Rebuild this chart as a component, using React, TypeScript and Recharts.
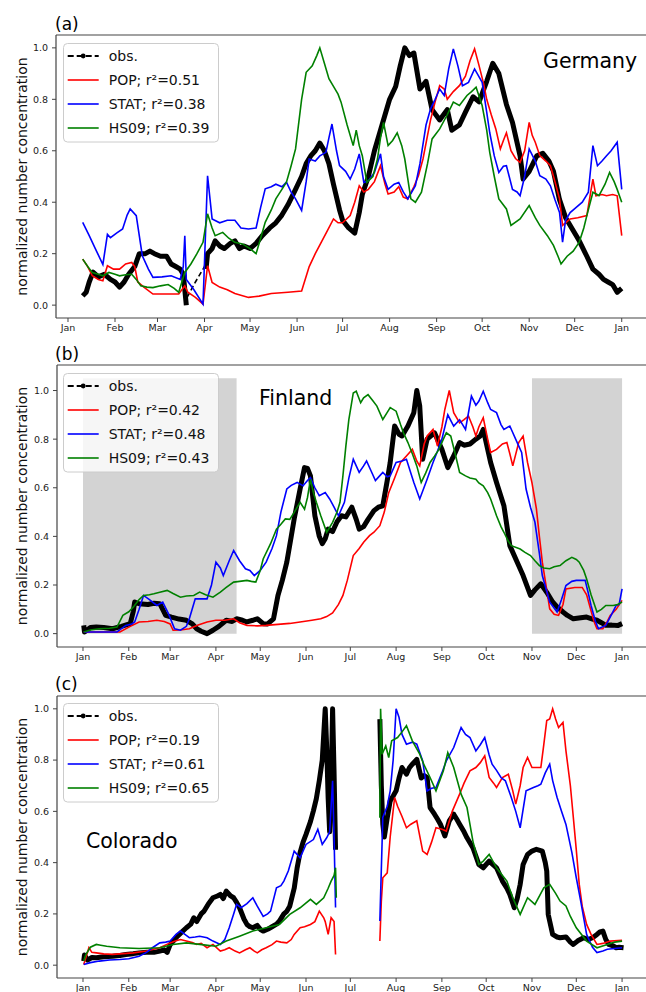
import React from 'react';
import { LineChart, Line, XAxis, YAxis, ReferenceArea, ReferenceLine, Legend } from 'recharts';

type Pt = [number, number | null];

const FONT = 'DejaVu Sans';
const MONTH_DAYS = [0, 31, 59, 90, 120, 151, 181, 212, 243, 273, 304, 334, 365];
const MONTH_LABELS = ['Jan', 'Feb', 'Mar', 'Apr', 'May', 'Jun', 'Jul', 'Aug', 'Sep', 'Oct', 'Nov', 'Dec', 'Jan'];
const Y_TICKS = [0, 0.2, 0.4, 0.6, 0.8, 1.0];
const SERIES_NAMES = ['obs.', 'POP', 'STAT', 'HS09'];

// ---------- Germany ----------
const deObs: Pt[] = [[9.7,0.036],[12,0.05],[14,0.09],[16.5,0.128],[20,0.11],[24,0.12],[28,0.1],[31,0.09],[34,0.07],[37,0.09],[40,0.12],[44,0.15],[47,0.2],[51,0.2],[54,0.21],[57,0.2],[61,0.19],[65,0.19],[68,0.16],[71,0.15],[74,0.14],[76,0.12],[77,0.06],[78,0.0],[84,null],[91,0.14],[92,0.2],[95,0.22],[97,0.25],[100,0.23],[103,0.22],[107,0.24],[110,0.25],[113,0.22],[116,0.23],[120,0.22],[124,0.24],[128,0.27],[133,0.3],[137,0.32],[141,0.35],[145,0.39],[150,0.45],[154,0.5],[157,0.55],[160,0.58],[163,0.6],[166,0.63],[169,0.6],[172,0.55],[175,0.47],[179,0.37],[181,0.33],[185,0.3],[189,0.28],[192,0.36],[194,0.43],[198,0.5],[202,0.6],[207,0.7],[212,0.8],[216,0.85],[219,0.93],[222,1.0],[225,0.97],[228,0.98],[232,0.84],[236,0.87],[240,0.76],[245,0.72],[250,0.76],[253,0.68],[258,0.7],[262,0.75],[267,0.81],[271,0.79],[276,0.87],[280,0.94],[284,0.9],[289,0.78],[293,0.71],[298,0.58],[300,0.49],[304,0.52],[309,0.58],[313,0.59],[317,0.56],[320,0.52],[324,0.41],[328,0.34],[333,0.29],[337,0.25],[342,0.19],[346,0.14],[350,0.12],[353,0.1],[356,0.09],[359,0.08],[362,0.05],[365,0.065]];
const deObsGap: Pt[] = [[78.5,0.03],[84,0.09],[90,0.15]];
const dePop: Pt[] = [[9.7,0.179],[13,0.15],[16,0.114],[20,0.1],[23,0.095],[26,0.153],[30,0.14],[34,0.14],[38,0.16],[42,0.166],[44,0.15],[46,0.09],[50,0.07],[56,0.043],[65,0.043],[73,0.043],[77,0.075],[79,0.05],[84,0.03],[89,0.004],[92,0.153],[95,0.088],[100,0.07],[105,0.06],[110,0.045],[119,0.03],[126,0.035],[134,0.045],[145,0.05],[154,0.055],[159,0.15],[163,0.2],[167,0.245],[171,0.29],[175,0.335],[178,0.32],[181,0.32],[186,0.348],[189,0.4],[192,0.464],[195,0.44],[198,0.45],[202,0.48],[206,0.542],[209,0.47],[211,0.432],[215,0.44],[218,0.46],[221,0.42],[224,0.413],[228,0.46],[231,0.503],[234,0.568],[237,0.66],[239,0.72],[242,0.79],[245,0.853],[248,0.84],[250,0.8],[254,0.83],[258,0.853],[262,0.89],[265,0.95],[268,0.996],[271,0.93],[274,0.86],[276,0.8],[279,0.74],[282,0.685],[285,0.607],[287,0.64],[289,0.67],[292,0.6],[295,0.57],[298,0.555],[301,0.6],[304,0.71],[306,0.66],[308,0.633],[311,0.581],[315,0.56],[318,0.542],[321,0.48],[324,0.413],[326,0.31],[331,0.335],[336,0.34],[342,0.348],[344,0.42],[346,0.49],[348,0.425],[352,0.43],[355,0.425],[359,0.43],[362,0.425],[365,0.27]];
const deStat: Pt[] = [[9.7,0.322],[14,0.27],[18,0.22],[23,0.158],[26,0.275],[28,0.262],[32,0.28],[36,0.296],[39,0.35],[41,0.374],[45,0.348],[49,0.192],[53,0.14],[56,0.108],[62,0.11],[68,0.114],[74,0.1],[76,0.15],[77,0.27],[78,0.1],[83,0.06],[89,0.004],[92,0.503],[95,0.335],[100,0.32],[105,0.33],[110,0.33],[114,0.3],[119,0.296],[124,0.3],[127,0.38],[130,0.452],[134,0.46],[137,0.47],[141,0.46],[144,0.478],[147,0.44],[150,0.413],[154,0.368],[157,0.48],[159,0.568],[163,0.56],[166,0.58],[170,0.594],[172,0.65],[174,0.704],[177,0.6],[179,0.542],[183,0.52],[186,0.49],[189,0.529],[192,0.588],[195,0.477],[198,0.483],[202,0.516],[206,0.588],[208,0.5],[211,0.45],[215,0.47],[218,0.477],[221,0.44],[224,0.413],[229,0.464],[232,0.55],[236,0.7],[239,0.763],[242,0.8],[245,0.84],[248,0.815],[251,0.92],[254,0.996],[257,0.93],[260,0.853],[264,0.866],[268,0.918],[273,0.866],[276,0.75],[278,0.67],[281,0.58],[284,0.516],[287,0.54],[289,0.542],[293,0.45],[296,0.44],[298,0.425],[301,0.5],[304,0.607],[308,0.56],[311,0.503],[315,0.49],[318,0.464],[321,0.41],[324,0.36],[326,0.245],[328,0.33],[331,0.36],[335,0.38],[339,0.4],[343,0.439],[346,0.62],[349,0.542],[352,0.56],[355,0.581],[358,0.6],[362,0.633],[365,0.45]];
const deHs: Pt[] = [[9.7,0.179],[13,0.15],[16,0.127],[20,0.12],[23,0.114],[27,0.127],[31,0.12],[34,0.114],[38,0.118],[42,0.12],[45,0.1],[48,0.075],[52,0.07],[56,0.068],[61,0.075],[66,0.08],[70,0.065],[73,0.05],[77,0.127],[81,0.16],[85,0.2],[89,0.244],[92,0.355],[95,0.3],[97,0.27],[102,0.283],[106,0.26],[110,0.244],[115,0.238],[120,0.22],[124,0.2],[127,0.26],[130,0.322],[134,0.37],[137,0.413],[141,0.45],[144,0.478],[147,0.54],[150,0.607],[154,0.8],[157,0.905],[161,0.93],[164,0.97],[166,1.0],[169,0.94],[172,0.88],[175,0.85],[178,0.82],[180,0.789],[184,0.7],[188,0.62],[190,0.68],[192,0.62],[194,0.581],[197,0.477],[201,0.5],[204,0.568],[206,0.65],[208,0.71],[211,0.62],[214,0.64],[217,0.67],[220,0.62],[222,0.568],[226,0.413],[229,0.4],[233,0.439],[237,0.55],[240,0.646],[245,0.685],[250,0.74],[254,0.789],[258,0.776],[263,0.815],[266,0.83],[269,0.847],[273,0.776],[276,0.68],[278,0.594],[281,0.5],[284,0.413],[289,0.374],[292,0.31],[298,0.335],[304,0.387],[308,0.34],[311,0.31],[316,0.27],[320,0.232],[323,0.19],[325,0.16],[329,0.19],[333,0.21],[337,0.245],[340,0.3],[342,0.348],[346,0.439],[350,0.426],[354,0.47],[357,0.516],[360,0.48],[362,0.45],[365,0.4]];
const deR2 = ['0.51', '0.38', '0.39'];

// ---------- Finland ----------
const fiObs: Pt[] = [[0.5,0.034],[1,0.007],[5,0.025],[9,0.027],[14,0.025],[20,0.02],[26,0.03],[32,0.041],[34,0.09],[35,0.13],[38,0.123],[44,0.12],[48,0.125],[52,0.123],[56,0.075],[60,0.068],[65,0.06],[70,0.055],[74,0.04],[77,0.02],[80,0.01],[84,0.0],[88,0.014],[92,0.03],[97,0.055],[101,0.05],[104,0.061],[108,0.055],[111,0.048],[115,0.055],[118,0.061],[122,0.041],[125,0.04],[129,0.061],[132,0.157],[135,0.22],[138,0.294],[141,0.4],[143,0.472],[147,0.595],[150,0.683],[152,0.68],[154,0.649],[157,0.485],[160,0.4],[162,0.37],[164,0.39],[166,0.43],[169,0.42],[172,0.46],[175,0.485],[178,0.48],[182,0.52],[185,0.47],[187,0.43],[190,0.44],[193,0.47],[197,0.506],[200,0.52],[203,0.526],[206,0.63],[208,0.704],[211,0.854],[214,0.82],[216,0.813],[220,0.854],[224,0.909],[226,1.0],[228,0.936],[230,0.717],[233,0.8],[238,0.826],[243,0.758],[247,0.683],[251,0.731],[255,0.786],[258,0.775],[262,0.78],[266,0.8],[269,0.813],[271,0.84],[276,0.704],[280,0.622],[285,0.526],[289,0.362],[294,0.294],[298,0.239],[303,0.157],[306,0.18],[310,0.205],[314,0.17],[318,0.13],[321,0.11],[325,0.089],[328,0.075],[332,0.061],[337,0.065],[341,0.068],[345,0.06],[348,0.055],[351,0.045],[354,0.034],[358,0.035],[362,0.033],[365,0.041]];
const fiPop: Pt[] = [[0.5,0.007],[10,0.007],[25,0.007],[32,0.03],[38,0.048],[44,0.05],[50,0.055],[55,0.05],[59,0.04],[61,0.014],[66,0.015],[72,0.02],[78,0.035],[84,0.048],[90,0.055],[96,0.055],[102,0.061],[106,0.045],[111,0.034],[118,0.032],[124,0.034],[132,0.038],[140,0.042],[147,0.048],[155,0.055],[161,0.061],[165,0.07],[169,0.085],[173,0.12],[176,0.157],[179,0.22],[183,0.321],[187,0.35],[190,0.376],[194,0.403],[197,0.417],[201,0.444],[204,0.5],[207,0.58],[211,0.64],[215,0.704],[219,0.731],[223,0.758],[226,0.71],[228,0.69],[231,0.78],[233,0.813],[237,0.84],[240,0.772],[243,0.85],[245,0.922],[248,1.0],[251,0.909],[255,0.867],[258,0.88],[261,0.895],[264,0.85],[266,0.813],[268,0.85],[271,0.888],[274,0.8],[276,0.745],[280,0.758],[284,0.78],[287,0.786],[289,0.74],[291,0.69],[295,0.786],[298,0.813],[301,0.704],[304,0.62],[307,0.513],[309,0.4],[311,0.294],[314,0.18],[316,0.102],[319,0.08],[322,0.075],[325,0.12],[327,0.184],[333,0.19],[338,0.19],[341,0.16],[343,0.116],[346,0.05],[348,0.02],[352,0.02],[355,0.05],[357,0.075],[361,0.1],[365,0.137]];
const fiStat: Pt[] = [[0.5,0.007],[10,0.007],[23,0.007],[29,0.034],[33,0.04],[35,0.048],[38,0.1],[41,0.157],[45,0.14],[50,0.116],[54,0.13],[58,0.08],[62,0.02],[66,0.014],[70,0.03],[72,0.061],[76,0.143],[80,0.143],[84,0.143],[87,0.2],[90,0.294],[93,0.27],[95,0.239],[99,0.3],[102,0.342],[106,0.3],[110,0.267],[113,0.26],[116,0.239],[120,0.26],[124,0.294],[128,0.35],[131,0.403],[134,0.5],[138,0.595],[141,0.61],[145,0.622],[149,0.608],[152,0.63],[154,0.642],[157,0.6],[160,0.567],[164,0.58],[167,0.554],[170,0.52],[173,0.485],[177,0.54],[180,0.64],[183,0.717],[187,0.663],[190,0.69],[192,0.71],[195,0.67],[198,0.63],[201,0.65],[203,0.663],[206,0.645],[208,0.649],[212,0.704],[216,0.71],[219,0.717],[222,0.66],[224,0.622],[228,0.554],[233,0.635],[237,0.704],[240,0.75],[243,0.8],[247,0.9],[251,0.854],[255,0.88],[259,0.84],[263,0.977],[266,0.94],[268,0.956],[271,0.997],[274,0.95],[276,0.922],[280,0.909],[283,0.86],[285,0.84],[289,0.854],[294,0.786],[297,0.745],[300,0.595],[303,0.52],[306,0.458],[309,0.33],[311,0.239],[316,0.13],[321,0.089],[324,0.14],[327,0.198],[331,0.215],[334,0.219],[340,0.219],[342,0.17],[344,0.116],[347,0.05],[349,0.02],[354,0.034],[358,0.08],[361,0.116],[363,0.12],[365,0.184]];
const fiHs: Pt[] = [[0.5,0.007],[5,0.015],[11,0.02],[18,0.022],[23,0.027],[27,0.075],[31,0.09],[34,0.109],[38,0.14],[41,0.157],[45,0.16],[48,0.164],[52,0.17],[57,0.178],[61,0.165],[66,0.15],[70,0.155],[75,0.157],[79,0.171],[83,0.16],[88,0.15],[93,0.171],[97,0.19],[102,0.212],[106,0.215],[111,0.219],[114,0.215],[117,0.212],[120,0.26],[122,0.307],[127,0.37],[131,0.43],[134,0.45],[137,0.472],[140,0.47],[143,0.499],[147,0.54],[150,0.512],[152,0.56],[154,0.635],[156,0.58],[158,0.54],[161,0.485],[165,0.417],[169,0.458],[172,0.5],[174,0.54],[176,0.65],[178,0.772],[180,0.88],[183,0.99],[185,0.997],[188,0.95],[190,0.97],[193,0.983],[196,0.96],[199,0.936],[203,0.881],[206,0.91],[208,0.93],[212,0.915],[215,0.86],[217,0.826],[220,0.786],[223,0.74],[226,0.69],[229,0.622],[232,0.66],[235,0.704],[238,0.73],[241,0.758],[244,0.8],[246,0.826],[249,0.813],[252,0.74],[255,0.663],[259,0.649],[262,0.64],[266,0.635],[268,0.62],[271,0.608],[274,0.58],[276,0.554],[280,0.485],[283,0.44],[285,0.417],[288,0.38],[290,0.362],[296,0.348],[299,0.335],[303,0.321],[306,0.3],[309,0.28],[312,0.27],[316,0.267],[319,0.275],[323,0.28],[327,0.3],[331,0.314],[334,0.305],[336,0.294],[339,0.26],[341,0.225],[344,0.16],[348,0.089],[351,0.1],[354,0.116],[359,0.116],[362,0.12],[365,0.13]];
const fiR2 = ['0.42', '0.48', '0.43'];
// shaded months without model coverage (day-of-year ranges)
const fiSpans: [number, number][] = [[0, 104], [304, 365]];

// ---------- Colorado ----------
const coObs: Pt[] = [[0.5,0.016],[1,0.04],[3,0.02],[6,0.03],[9,0.029],[14,0.033],[20,0.035],[25,0.038],[29,0.042],[34,0.045],[38,0.048],[43,0.05],[48,0.05],[52,0.055],[55,0.06],[57,0.05],[59,0.08],[62,0.1],[64,0.113],[67,0.13],[70,0.146],[73,0.16],[75,0.185],[77,0.17],[80,0.2],[82,0.211],[85,0.24],[88,0.263],[91,0.27],[93,0.276],[95,0.26],[97,0.289],[100,0.27],[102,0.263],[104,0.245],[106,0.224],[109,0.18],[111,0.159],[113,0.15],[115,0.146],[118,0.155],[120,0.14],[122,0.133],[125,0.14],[128,0.15],[131,0.16],[133,0.172],[136,0.2],[138,0.21],[140,0.23],[143,0.3],[145,0.38],[147,0.44],[149,0.48],[151,0.51],[154,0.56],[156,0.602],[158,0.65],[160,0.72],[162,0.8],[163,0.9],[164,1.0],[165,0.85],[166,0.65],[167,0.52],[168,0.7],[169,1.0],[170,0.75],[171,0.45],[186,null],[201,0.96],[202,0.7],[203,0.55],[204,0.5],[206,0.575],[208,0.641],[210,0.66],[212,0.68],[214,0.73],[216,0.771],[219,0.745],[221,0.77],[223,0.784],[226,0.803],[229,0.73],[231,0.74],[233,0.732],[235,0.615],[238,0.589],[240,0.57],[242,0.55],[245,0.504],[248,0.563],[251,0.589],[253,0.57],[255,0.55],[258,0.52],[260,0.497],[264,0.458],[268,0.393],[271,0.38],[275,0.406],[278,0.39],[280,0.38],[284,0.328],[287,0.3],[289,0.276],[292,0.224],[294,0.26],[296,0.315],[298,0.393],[301,0.432],[304,0.445],[307,0.452],[311,0.445],[313,0.4],[314,0.367],[315,0.198],[318,0.12],[321,0.11],[323,0.107],[327,0.11],[330,0.09],[332,0.081],[335,0.095],[339,0.107],[342,0.1],[345,0.107],[348,0.12],[350,0.13],[352,0.133],[354,0.1],[356,0.081],[359,0.075],[361,0.068],[363,0.07],[366,0.068]];
const coPop: Pt[] = [[0.5,0.003],[2,0.03],[4,0.068],[6,0.05],[9,0.048],[14,0.044],[20,0.042],[27,0.045],[34,0.048],[43,0.055],[52,0.068],[59,0.087],[63,0.095],[66,0.1],[70,0.094],[74,0.088],[77,0.081],[80,0.085],[84,0.068],[88,0.081],[93,0.055],[96,0.06],[99,0.068],[103,0.055],[106,0.048],[110,0.06],[113,0.068],[116,0.055],[118,0.048],[121,0.06],[124,0.068],[128,0.08],[131,0.094],[134,0.09],[138,0.087],[141,0.1],[143,0.12],[147,0.146],[150,0.15],[154,0.159],[157,0.17],[160,0.211],[163,0.185],[164,0.17],[166,0.12],[168,0.185],[170,0.17],[171,0.042],[186,null],[201,0.094],[202,0.25],[203,0.341],[206,0.36],[208,0.5],[211,0.654],[213,0.62],[216,0.58],[219,0.536],[222,0.55],[226,0.563],[230,0.445],[233,0.432],[236,0.48],[239,0.536],[243,0.53],[246,0.523],[250,0.6],[255,0.667],[258,0.71],[262,0.758],[266,0.771],[269,0.79],[272,0.817],[275,0.732],[278,0.71],[280,0.693],[284,0.732],[288,0.745],[291,0.68],[293,0.628],[296,0.7],[298,0.771],[301,0.81],[304,0.771],[307,0.771],[310,0.771],[312,0.86],[314,0.954],[316,0.96],[318,1.0],[320,0.96],[322,0.927],[325,0.947],[327,0.836],[330,0.7],[332,0.576],[334,0.45],[336,0.315],[338,0.23],[341,0.159],[344,0.12],[348,0.081],[352,0.085],[357,0.094],[365,0.097]];
const coStat: Pt[] = [[0.5,0.003],[5,0.01],[11,0.016],[18,0.02],[25,0.022],[31,0.025],[38,0.035],[43,0.05],[47,0.068],[52,0.087],[56,0.09],[59,0.094],[63,0.12],[66,0.133],[69,0.12],[72,0.107],[76,0.11],[79,0.113],[84,0.107],[88,0.094],[93,0.081],[96,0.1],[99,0.146],[102,0.2],[104,0.237],[107,0.224],[111,0.24],[115,0.263],[118,0.23],[122,0.19],[125,0.2],[127,0.211],[131,0.302],[134,0.31],[136,0.328],[139,0.367],[143,0.445],[147,0.419],[151,0.471],[156,0.49],[159,0.53],[162,0.471],[165,0.497],[167,0.52],[169,0.719],[170,0.5],[171,0.225],[186,null],[201,0.172],[203,0.576],[206,0.62],[208,0.68],[210,0.8],[212,1.0],[214,0.966],[216,0.9],[219,0.862],[223,0.87],[226,0.862],[230,0.797],[233,0.68],[236,0.69],[239,0.693],[243,0.75],[246,0.797],[251,0.849],[256,0.927],[259,0.9],[262,0.888],[266,0.836],[269,0.86],[272,0.888],[275,0.82],[277,0.784],[280,0.76],[283,0.732],[286,0.719],[290,0.654],[293,0.6],[296,0.536],[300,0.68],[305,0.693],[308,0.7],[310,0.706],[313,0.75],[316,0.784],[318,0.72],[321,0.654],[324,0.6],[327,0.549],[331,0.44],[334,0.341],[337,0.25],[341,0.12],[345,0.07],[348,0.049],[352,0.055],[355,0.062],[360,0.065],[365,0.068]];
const coHs: Pt[] = [[0.5,0.016],[2,0.042],[5,0.07],[9,0.081],[12,0.078],[16,0.074],[25,0.068],[38,0.065],[52,0.068],[61,0.081],[70,0.087],[79,0.081],[90,0.074],[97,0.094],[106,0.113],[115,0.133],[124,0.146],[133,0.159],[140,0.198],[147,0.224],[154,0.257],[158,0.237],[163,0.263],[166,0.3],[168,0.328],[170,0.35],[171,0.38],[171.5,0.263],[186,null],[201,0.575],[201.5,1.0],[202.5,0.823],[205,0.855],[207,0.81],[209,0.875],[213,0.888],[216,0.91],[219,0.934],[223,0.875],[228,0.823],[231,0.78],[235,0.732],[239,0.68],[244,0.758],[247,0.829],[251,0.771],[256,0.667],[260,0.615],[264,0.484],[268,0.393],[271,0.406],[275,0.432],[280,0.38],[284,0.35],[287,0.328],[291,0.263],[296,0.198],[301,0.263],[306,0.237],[312,0.302],[316,0.315],[320,0.28],[323,0.25],[327,0.231],[330,0.19],[334,0.146],[341,0.094],[348,0.068],[355,0.081],[360,0.09],[365,0.094]];
const coR2 = ['0.19', '0.61', '0.65'];

const COLORS = { obs: '#000000', pop: '#ff0000', stat: '#0000ff', hs: '#008000' };

const rows = (pts: Pt[]) => pts.map(([day, v]) => ({ day, v }));

type PanelCfg = {
  top: number; height: number; plotTop: number; plotHeight: number; axisLeft: number;
  xDomain: [number, number]; yDomain: [number, number];
  obs: Pt[]; obsGap?: Pt[]; pop: Pt[]; stat: Pt[]; hs: Pt[]; r2: string[];
  tag: string; tagY: number; country: string; countryX: number; countryY: number;
  spans?: [number, number][]; legendY: number;
};

const panels: PanelCfg[] = [
  { top: 0, height: 345, plotTop: 35, plotHeight: 283, axisLeft: 56, xDomain: [-7.9, 381], yDomain: [-0.05, 1.05],
    obs: deObs, obsGap: deObsGap, pop: dePop, stat: deStat, hs: deHs, r2: deR2,
    tag: '(a)', tagY: 29.5, country: 'Germany', countryX: 543, countryY: 67.5, legendY: 43.3 },
  { top: 330, height: 344, plotTop: 35, plotHeight: 282, axisLeft: 57, xDomain: [-17.6, 381.2], yDomain: [-0.055, 1.105],
    obs: fiObs, pop: fiPop, stat: fiStat, hs: fiHs, r2: fiR2, spans: fiSpans,
    tag: '(b)', tagY: 29.5, country: 'Finland', countryX: 259, countryY: 74.5, legendY: 43 },
  { top: 660, height: 332, plotTop: 36, plotHeight: 282, axisLeft: 57, xDomain: [-17.6, 381.2], yDomain: [-0.05, 1.05],
    obs: coObs, pop: coPop, stat: coStat, hs: coHs, r2: coR2,
    tag: '(c)', tagY: 30, country: 'Colorado', countryX: 86, countryY: 188.3, legendY: 42.7 },
];

const AXIS_COLOR = '#444';
const TICK_STYLE = { fontSize: 9.5, fill: '#222', fontFamily: FONT };
const LEGEND_W = 156;
const LEGEND_H = 100;

// Legend drawn as a small svg inside the Recharts legend wrapper (sits above the plot layers)
function LegendBox({ r2 }: { r2: string[] }) {
  const offs = [13, 37, 61, 85];
  const labels = [SERIES_NAMES[0], `${SERIES_NAMES[1]}; r²=${r2[0]}`, `${SERIES_NAMES[2]}; r²=${r2[1]}`, `${SERIES_NAMES[3]}; r²=${r2[2]}`];
  const cols = [COLORS.obs, COLORS.pop, COLORS.stat, COLORS.hs];
  return (
    <svg width={LEGEND_W} height={LEGEND_H} style={{ display: 'block', overflow: 'visible' }}>
      <rect x={0.5} y={0.5} width={155} height={98.5} rx={4} ry={4} fill="#ffffff" fillOpacity={0.8} stroke="#cccccc" strokeWidth={1} />
      {labels.map((t, i) => {
        const ry = offs[i];
        return (
          <g key={t}>
            {i === 0 ? (
              <g>
                <line x1={4.7} x2={35.7} y1={ry} y2={ry} stroke="#000" strokeWidth={2} strokeDasharray="6 3" />
                <circle cx={20.2} cy={ry} r={2.4} fill="#000" />
              </g>
            ) : (
              <line x1={4.7} x2={35.7} y1={ry} y2={ry} stroke={cols[i]} strokeWidth={1.6} />
            )}
            <text x={45.7} y={ry + 5} fontSize={14} fontFamily={FONT} fill="#111">{t}</text>
          </g>
        );
      })}
    </svg>
  );
}

function Panel({ cfg }: { cfg: PanelCfg }) {
  const xAxisHeight = cfg.height - cfg.plotTop - cfg.plotHeight;
  const cy = cfg.plotTop + cfg.plotHeight / 2;
  return (
    <div style={{ position: 'absolute', left: 0, top: cfg.top }}>
      <LineChart width={646} height={cfg.height} margin={{ top: cfg.plotTop, right: 0, bottom: 0, left: 0 }}>
        <XAxis type="number" dataKey="day" domain={cfg.xDomain} allowDataOverflow ticks={MONTH_DAYS} interval={0}
          tickFormatter={(d: number) => MONTH_LABELS[MONTH_DAYS.indexOf(d)] ?? ''}
          tick={TICK_STYLE} tickSize={4} tickMargin={2} height={xAxisHeight}
          axisLine={{ stroke: AXIS_COLOR, strokeWidth: 1.2 }} tickLine={{ stroke: AXIS_COLOR }} />
        <YAxis type="number" domain={cfg.yDomain} allowDataOverflow ticks={Y_TICKS} interval={0}
          tickFormatter={(v: number) => v.toFixed(1)} tick={TICK_STYLE} tickSize={4} tickMargin={4} width={cfg.axisLeft}
          axisLine={{ stroke: AXIS_COLOR, strokeWidth: 1.2 }} tickLine={{ stroke: AXIS_COLOR }} />
        {(cfg.spans ?? []).map(([a, b]) => (
          <ReferenceArea key={a} x1={a} x2={b} y1={0} y2={1.05} fill="#d3d3d3" fillOpacity={1} stroke="none" ifOverflow="visible" />
        ))}
        <ReferenceLine y={cfg.yDomain[1]} stroke={AXIS_COLOR} strokeWidth={1.2} />
        <Line data={rows(cfg.obs)} dataKey="v" name={SERIES_NAMES[0]} type="linear" stroke={COLORS.obs} strokeWidth={5} strokeLinejoin="round" dot={false} isAnimationActive={false} />
        {cfg.obsGap && (
          <Line data={rows(cfg.obsGap)} dataKey="v" legendType="none" type="linear" stroke={COLORS.obs} strokeWidth={1.6} strokeDasharray="5 3" dot={false} isAnimationActive={false} />
        )}
        <Line data={rows(cfg.pop)} dataKey="v" name={SERIES_NAMES[1]} type="linear" stroke={COLORS.pop} strokeWidth={1.6} dot={false} isAnimationActive={false} />
        <Line data={rows(cfg.stat)} dataKey="v" name={SERIES_NAMES[2]} type="linear" stroke={COLORS.stat} strokeWidth={1.6} dot={false} isAnimationActive={false} />
        <Line data={rows(cfg.hs)} dataKey="v" name={SERIES_NAMES[3]} type="linear" stroke={COLORS.hs} strokeWidth={1.6} dot={false} isAnimationActive={false} />
        <text x={55} y={cfg.tagY} fontSize={17} fontFamily={FONT} fill="#000">{cfg.tag}</text>
        <text x={27} y={cy} fontSize={14} fontFamily={FONT} fill="#111" textAnchor="middle" transform={`rotate(-90 27 ${cy})`}>
          normalized number concentration
        </text>
        <text x={cfg.countryX} y={cfg.countryY} fontSize={20.5} fontFamily={FONT} fill="#000">{cfg.country}</text>
        <Legend layout="vertical" align="center" verticalAlign="middle"
          wrapperStyle={{ position: 'absolute', left: 63, top: cfg.legendY, width: LEGEND_W, height: LEGEND_H, margin: 0, padding: 0, lineHeight: 0 }}
          content={() => <LegendBox r2={cfg.r2} />} />
      </LineChart>
    </div>
  );
}

export default function App() {
  return (
    <div style={{ position: 'absolute', left: 0, top: 0, width: 646, height: 992, overflow: 'hidden', background: '#ffffff' }}>
      {panels.map((p) => (
        <Panel key={p.tag} cfg={p} />
      ))}
    </div>
  );
}
